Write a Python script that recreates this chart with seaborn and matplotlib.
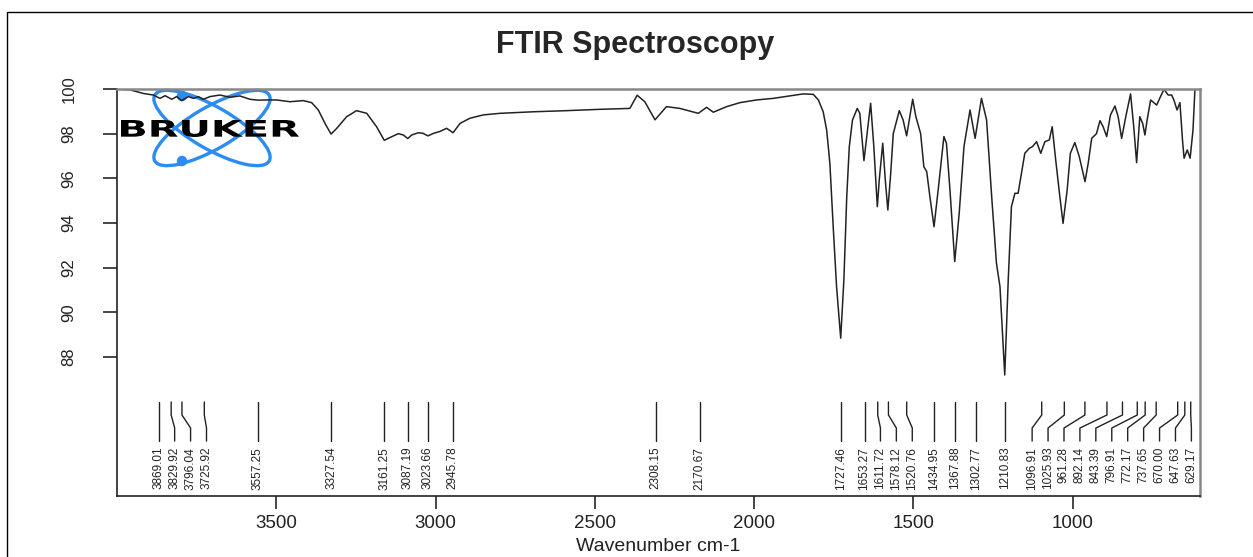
import matplotlib
matplotlib.use("Agg")
import matplotlib.pyplot as plt
import matplotlib.transforms as mtransforms
from matplotlib.patches import Ellipse, Circle, PathPatch, Rectangle
from matplotlib.textpath import TextPath
from matplotlib.font_manager import FontProperties
import seaborn as sns

# --- spectrum (wavenumber cm-1, transmittance %) ---
wavenumber = [
    4000, 3959, 3917, 3886, 3865, 3849, 3828, 3813, 3797, 3776,
    3760, 3745, 3729, 3708, 3677, 3645, 3614, 3583, 3557, 3530,
    3499, 3457, 3415, 3389, 3368, 3347, 3328, 3310, 3279, 3248,
    3216, 3185, 3161, 3138, 3117, 3101, 3087, 3075, 3054, 3040,
    3024, 3005, 2986, 2965, 2945, 2923, 2892, 2850, 2798, 2693,
    2589, 2484, 2390, 2367, 2343, 2311, 2275, 2233, 2175, 2149,
    2128, 2086, 2044, 1992, 1940, 1887, 1846, 1814, 1798, 1783,
    1772, 1762, 1751, 1741, 1728, 1718, 1709, 1701, 1691, 1676,
    1668, 1655, 1645, 1634, 1624, 1613, 1607, 1596, 1588, 1580,
    1571, 1563, 1544, 1532, 1521, 1511, 1502, 1492, 1477, 1467,
    1458, 1448, 1435, 1422, 1404, 1396, 1385, 1370, 1356, 1341,
    1322, 1306, 1286, 1270, 1254, 1239, 1228, 1213, 1202, 1192,
    1181, 1171, 1164, 1150, 1136, 1126, 1113, 1100, 1087, 1073,
    1064, 1053, 1040, 1030, 1017, 1007, 993, 979, 961, 951,
    940, 925, 914, 904, 893, 881, 867, 857, 846, 833,
    818, 808, 799, 789, 780, 773, 766, 755, 736, 724,
    713, 700, 689, 682, 672, 663, 655, 650, 640, 631,
    622, 616, 610,
]
transmittance = [
    100.0, 99.96, 99.80, 99.73, 99.58, 99.70, 99.54, 99.66, 99.48, 99.66,
    99.58, 99.66, 99.54, 99.66, 99.73, 99.63, 99.69, 99.54, 99.50, 99.51,
    99.51, 99.43, 99.48, 99.39, 99.06, 98.46, 97.98, 98.24, 98.76, 99.03,
    98.91, 98.31, 97.70, 97.86, 98.00, 97.94, 97.78, 97.94, 98.04, 98.02,
    97.90, 98.02, 98.10, 98.24, 98.04, 98.46, 98.69, 98.84, 98.91, 98.98,
    99.03, 99.09, 99.13, 99.72, 99.43, 98.62, 99.21, 99.13, 98.91, 99.18,
    98.96, 99.21, 99.39, 99.51, 99.58, 99.69, 99.78, 99.76, 99.51, 98.98,
    98.16, 96.67, 93.69, 91.15, 88.84, 91.45, 95.18, 97.42, 98.61, 99.13,
    98.91, 96.79, 98.00, 99.36, 97.42, 94.73, 95.92, 97.57, 95.92, 94.58,
    96.22, 98.00, 99.03, 98.61, 97.90, 98.76, 99.54, 98.76, 98.00, 96.52,
    96.30, 95.18, 93.83, 95.48, 97.87, 97.57, 95.48, 92.27, 94.43, 97.42,
    99.06, 97.79, 99.58, 98.61, 95.18, 92.19, 91.15, 87.19, 91.45, 94.73,
    95.33, 95.33, 95.92, 97.12, 97.34, 97.42, 97.64, 97.12, 97.64, 97.72,
    98.31, 96.82, 95.18, 93.98, 95.48, 97.12, 97.60, 96.97, 95.85, 96.67,
    97.79, 98.00, 98.58, 98.31, 97.87, 98.84, 99.24, 98.76, 97.79, 98.76,
    99.78, 98.31, 96.70, 98.76, 98.46, 97.94, 98.61, 99.51, 99.28, 99.66,
    99.99, 99.73, 99.73, 99.51, 99.06, 99.39, 97.72, 96.90, 97.27, 96.90,
    98.16, 99.96, 100.0,
]

# picked peaks
peak_positions = [
    3869.01, 3829.92, 3796.04, 3725.92, 3557.25, 3327.54, 3161.25, 3087.19,
    3023.66, 2945.78, 2308.15, 2170.67, 1727.46, 1653.27, 1611.72, 1578.12,
    1520.76, 1434.95, 1367.88, 1302.77, 1210.83, 1096.91, 1025.93, 961.28,
    892.14, 843.39, 796.91, 772.17, 737.65, 670.00, 647.63, 629.17,
]

x_ticks = [3500, 3000, 2500, 2000, 1500, 1000]
y_ticks = [88, 90, 92, 94, 96, 98, 100]


def spread_labels(pos, sep, lo):
    """Greedy spread: push crowded labels towards low wavenumber,
    then push back from the right edge if they run off the axis."""
    labs = []
    for p in pos:
        labs.append(p if not labs else min(p, labs[-1] - sep))
    labs[-1] = max(labs[-1], lo)
    for i in range(len(labs) - 2, -1, -1):
        labs[i] = max(labs[i], labs[i + 1] + sep)
    return labs


sns.set_style("ticks")
plt.rcParams['font.family'] = ['Liberation Sans', 'DejaVu Sans']

W, H = 1253, 557
fig = plt.figure(figsize=(W / 100, H / 100), dpi=100)

# outer frame (cut at the right and bottom of the screenshot)
fig.patches.append(Rectangle((7 / W, -0.1), 1.2, 1 - 12 / H + 0.1, fill=False,
                             edgecolor='black', linewidth=1.0,
                             transform=fig.transFigure, figure=fig))

# --- Bruker logo, drawn in pixel units ---
lax = fig.add_axes([110 / W, 1 - 170 / H, 200 / W, 85 / H], zorder=0)
lax.set_xlim(110, 310)
lax.set_ylim(170, 85)
lax.axis('off')
blue = '#2b8cf2'
for ang in (30, -30):
    lax.add_patch(Ellipse((212, 128), 132, 42, angle=ang, fill=False,
                          edgecolor=blue, linewidth=2.4))
lax.add_patch(Circle((182, 96), 4.5, color=blue))
lax.add_patch(Circle((182, 161), 4.5, color=blue))
tp = TextPath((0, 0), 'BRUKER', size=10,
              prop=FontProperties(family='DejaVu Sans', weight='bold'))
ext = tp.get_extents()
tr = (mtransforms.Affine2D().translate(-ext.x0, -ext.y0)
      .scale(178 / ext.width, -17 / ext.height).translate(121, 137))
lax.add_patch(PathPatch(tr.transform_path(tp), facecolor='black', edgecolor='none'))

# --- main spectrum axes ---
ax = fig.add_axes([117 / W, 1 - 496 / H, (1200 - 117) / W, (496 - 89) / H], zorder=1)
ax.patch.set_alpha(0)
sns.lineplot(x=wavenumber, y=transmittance, sort=False, estimator=None,
             ax=ax, color='#222222', linewidth=1.1)
ax.set_xlim(4000, 600)
ax.set_ylim(81.77, 100)

ax.set_xticks(x_ticks)
ax.set_xticklabels([str(t) for t in x_ticks], fontsize=13.5, color='#222222')
ax.set_yticks(y_ticks)
ax.set_yticklabels([str(t) for t in y_ticks], rotation=90, va='center',
                   fontsize=12, color='#222222')
ax.tick_params(axis='x', length=9, width=1.2, pad=5)
ax.tick_params(axis='y', length=10, width=1.2, pad=19)
ax.set_xlabel('Wavenumber cm-1', fontsize=14, labelpad=4, color='#222222')
ax.set_ylabel('')

for s in ('left', 'bottom'):
    ax.spines[s].set_color('#222222')
    ax.spines[s].set_linewidth(1.2)
for s in ('top', 'right'):
    ax.spines[s].set_color('#888888')
    ax.spines[s].set_linewidth(1.8)

# peak marks with labels spread out where they crowd
trans = mtransforms.blended_transform_factory(ax.transData, ax.transAxes)
label_pos = spread_labels(peak_positions, 50, 627)
for p, lp in zip(peak_positions, label_pos):
    ax.plot([p, p, lp, lp], [0.231, 0.199, 0.167, 0.135], transform=trans,
            color='#222222', linewidth=1.0)
    ax.text(lp, 0.121, f'{p:.2f}', rotation=90, ha='center', va='top',
            transform=trans, fontsize=8.5, color='#222222')

fig.text(635 / W, 1 - 45 / H, 'FTIR Spectroscopy', ha='center', va='center',
         fontsize=22, fontweight='bold',
         family=['Liberation Sans Narrow', 'Liberation Sans', 'DejaVu Sans'])

fig.savefig('out.png', dpi=100)
